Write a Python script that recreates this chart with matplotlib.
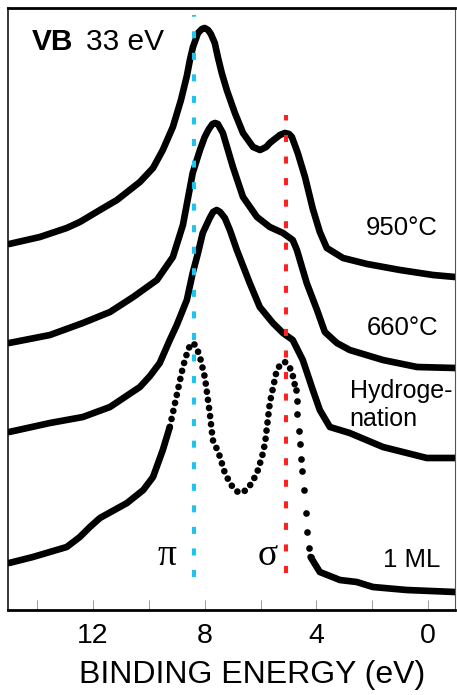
import numpy as np
import matplotlib
matplotlib.use('Agg')
import matplotlib.pyplot as plt

plt.rcParams['font.family'] = ['Liberation Sans', 'DejaVu Sans']

# Binding energy (eV) and intensity (arb. units, curves already offset)
e_950 = [15.0, 13.90, 12.94, 12.47, 11.75, 11.14, 10.32, 9.85, 9.50, 9.14, 8.85, 8.64,
         8.53, 8.42, 8.24, 8.10, 8.00, 7.88, 7.78, 7.64, 7.53, 7.39, 7.21, 6.92, 6.63,
         6.27, 6.02, 5.80, 5.67, 5.31, 5.13, 4.98, 4.88, 4.67, 4.41, 4.13, 3.88, 3.63,
         3.05, 2.19, 1.01, -0.17, -0.96]
i_950 = [365, 372, 381, 387, 399, 409, 427, 441, 459, 482, 509, 533,
         549, 562, 576, 580, 581, 579, 575, 566, 552, 536, 519, 496, 476,
         462, 459, 462, 466, 474, 476, 475, 472, 456, 432, 400, 377, 361,
         351, 345, 339, 334, 332]

e_660 = [15.0, 13.54, 12.36, 11.39, 10.56, 9.71, 9.14, 8.78, 8.43, 8.17, 8.00, 7.85,
         7.72, 7.63, 7.53, 7.45, 7.35, 6.99, 6.63, 6.13, 5.67, 5.20, 4.85, 4.70,
         4.35, 3.98, 3.70, 3.27, 2.81, 1.62, 0.40, -0.96]
i_660 = [266, 274, 286, 297, 312, 329, 352, 384, 436, 459, 472, 480,
         485, 486, 485, 481, 476, 442, 412, 392, 382, 376, 369, 359,
         326, 299, 277, 266, 259, 249, 242, 241]

e_hyd = [15.0, 13.54, 12.36, 11.39, 10.32, 9.96, 9.61, 9.25, 9.00, 8.64, 8.43, 8.25,
         8.07, 7.82, 7.70, 7.57, 7.45, 7.28, 7.10, 6.85, 6.39, 6.03, 5.56, 5.20,
         4.85, 4.49, 4.13, 3.88, 3.52, 2.81, 1.62, 0.05, -0.96]
i_hyd = [177, 186, 192, 202, 222, 233, 246, 269, 284, 309, 336, 355,
         376, 391, 397, 399, 397, 391, 379, 359, 326, 302, 286, 276,
         269, 249, 219, 199, 182, 176, 162, 151, 151]

e_1ml = [15.0, 14.15, 12.94, 12.47, 12.11, 11.75, 10.78, 10.20, 9.85, 9.50, 9.25, 9.00,
         8.78, 8.60, 8.53, 8.46, 8.38, 8.30, 8.17, 7.99, 7.82, 7.71, 7.50, 7.29,
         7.10, 6.92, 6.75, 6.50, 6.32, 6.13, 5.95, 5.84, 5.67, 5.42, 5.25, 5.13,
         5.00, 4.88, 4.81, 4.74, 4.71, 4.68, 4.64, 4.60, 4.55, 4.51, 4.45, 4.39,
         4.34, 4.28, 4.21, 3.88, 3.16, 2.56, 1.98, 0.77, -0.96]
i_1ml = [46, 52, 62, 72, 82, 91, 106, 119, 132, 159, 182, 214,
         242, 259, 263, 266, 265, 262, 252, 231, 196, 169, 156, 137,
         126, 119, 116, 119, 126, 136, 152, 166, 206, 239, 246, 247,
         244, 237, 229, 219, 208, 195, 178, 165, 150, 138, 119, 96,
         77, 61, 52, 37, 29, 27, 22, 19, 17]

pi_energy = 8.37
sigma_energy = 5.09

fig = plt.figure(figsize=(4.57, 6.95), dpi=100)
ax = fig.add_axes([0.0182, 0.1223, 0.9775, 0.8662])

lw = 4.8
for e, i in [(e_950, i_950), (e_660, i_660), (e_hyd, i_hyd)]:
    ax.plot(e, i, color='black', lw=lw, solid_capstyle='round', solid_joinstyle='round')

# 1 ML: solid tails, beaded middle, separate dots on the steep edge
e = np.array(e_1ml)
i = np.array(i_1ml)
left = e >= 9.25
mid = (e <= 9.25) & (e >= 4.74)
steep = (e < 4.76) & (e > 4.2)
right = e <= 4.21
ax.plot(e[left], i[left], color='black', lw=lw, solid_capstyle='round',
        solid_joinstyle='round')
ax.plot(e[right], i[right], color='black', lw=lw, solid_capstyle='round',
        solid_joinstyle='round')
ax.plot(e[mid], i[mid], color='black', lw=lw, linestyle=(0, (0.01, 1.22)),
        dash_capstyle='round')
ax.plot(e[steep], i[steep], 'o', color='black', ms=4.8, mew=0)

# reference lines
ax.vlines(pi_energy, 32, 594, color='#1fc3ef', lw=2.9, linestyle=(0, (1.75, 3.6)), zorder=5)
ax.vlines(sigma_energy, 36, 494, color='#ff2020', lw=2.9, linestyle=(0, (1.75, 3.6)), zorder=5)

ax.set_xlim(15.03, -0.96)
ax.set_ylim(-1, 601)
ax.set_xticks([12, 8, 4, 0])
ax.set_xticklabels(['12', '8', '4', '0'])
ax.set_xticks([14, 10, 6, 2], minor=True)
ax.set_yticks([])
ax.tick_params(axis='x', which='both', direction='in', length=7.2, width=0.7,
               color='#999999', labelsize=20.5, pad=9)
ax.spines['top'].set_linewidth(2.0)
ax.spines['bottom'].set_linewidth(2.0)
ax.spines['left'].set_linewidth(1.1)
ax.spines['right'].set_linewidth(0.8)
ax.spines['right'].set_color('#555555')

fig.text(252 / 457, 1 - 683 / 695, 'BINDING ENERGY (eV)', ha='center', va='baseline',
         fontsize=23)

ax.text(14.18, 559, 'VB', fontsize=21.5, fontweight='bold', va='baseline', ha='left')
ax.text(12.25, 559, '33 eV', fontsize=21.5, va='baseline', ha='left')

ax.text(-0.35, 374, '950°C', fontsize=18.5, ha='right', va='baseline')
ax.text(-0.35, 274, '660°C', fontsize=18.5, ha='right', va='baseline')
ax.text(2.81, 211, 'Hydroge-', fontsize=18, ha='left', va='baseline')
ax.text(2.81, 183, 'nation', fontsize=18, ha='left', va='baseline')
ax.text(-0.42, 42, '1 ML', fontsize=18.5, ha='right', va='baseline')

serif = ['Liberation Serif', 'DejaVu Serif']
ax.text(9.35, 44, 'π', fontsize=27, ha='center', va='baseline', family=serif)
ax.text(5.76, 44, 'σ', fontsize=27, ha='center', va='baseline', family=serif)

fig.savefig('out.png', dpi=100, facecolor='white')
